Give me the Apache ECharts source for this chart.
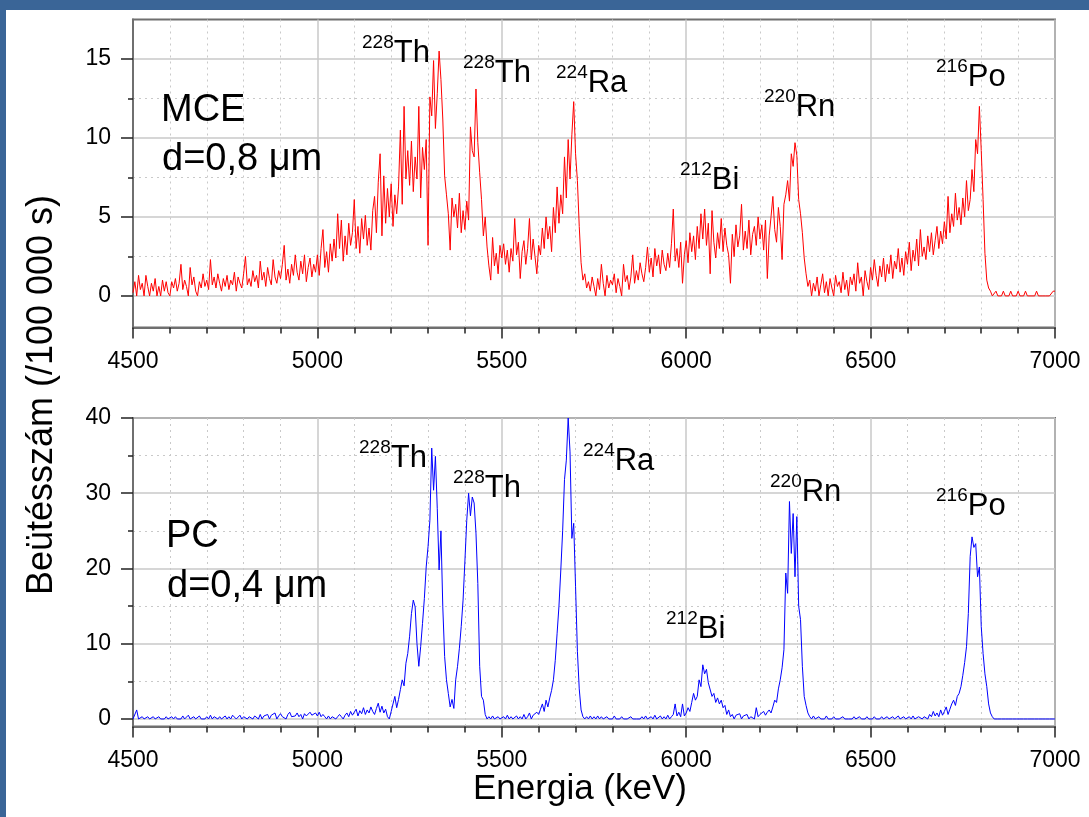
<!DOCTYPE html>
<html>
<head>
<meta charset="utf-8">
<script src="https://cdn.jsdelivr.net/npm/echarts@6/dist/echarts.min.js"></script>
<style>
html,body{margin:0;padding:0;background:#ffffff;}
#chart{width:1089px;height:817px;}
</style>
</head>
<body>
<div id="chart"></div>
<script>
// ---------- DATA ----------
// channel energies: E_START + i*E_STEP (keV)
const E_START = 4500;
const E_STEP = 5;

// MCE, d=0,8 µm  (counts / 100 000 s)
const mceCounts = [
  0.2, 0.9, 0.0, 1.3, 0.4, 0.8, 0.0, 1.3, 0.6, 0.0,
  0.8, 0.3, 1.1, 0.0, 0.6, 0.0, 1.0, 0.3, 0.9, 0.2,
  0.0, 0.9, 0.5, 1.1, 0.3, 0.8, 2.0, 0.4, 1.0, 0.6,
  0.0, 1.8, 0.7, 1.2, 0.3, 0.0, 0.9, 0.5, 1.4, 0.6,
  1.0, 0.4, 2.3, 0.7, 1.2, 0.5, 1.4, 0.8, 0.3, 1.1,
  0.6, 1.3, 0.4, 1.0, 0.7, 1.5, 0.3, 1.2, 0.8, 0.5,
  1.4, 2.5, 0.7, 1.1, 0.6, 1.6, 0.9, 1.3, 0.5, 2.2,
  1.0, 1.5, 0.6, 1.8, 1.1, 0.7, 2.3, 1.2, 0.8, 1.6,
  1.1, 2.0, 3.2, 1.0, 1.7, 0.8, 2.0, 1.3, 2.6, 1.5,
  1.0, 2.2, 1.4, 2.6, 0.9, 1.8, 2.4, 1.2, 2.0, 1.5,
  2.6, 1.3, 3.0, 4.2, 1.8, 2.8, 1.5, 3.3, 2.2, 3.6,
  2.4, 5.2, 3.0, 4.8, 2.2, 3.8, 2.6, 4.6, 3.2, 4.0,
  6.1, 3.0, 4.4, 2.7, 4.9, 3.6, 5.1, 3.2, 4.3, 2.9,
  5.4, 6.3, 4.0, 7.2, 9.0, 3.8, 7.6, 4.6, 6.8, 5.0,
  7.1, 4.4, 6.4, 5.2, 6.9, 10.5, 5.8, 12.0, 7.4, 9.2,
  7.0, 9.8, 6.6, 8.8, 7.4, 12.0, 6.2, 9.4, 8.0, 9.9,
  3.2, 12.6, 11.4, 14.9, 10.6, 12.8, 15.5, 13.7, 11.2, 7.6,
  6.4, 5.2, 2.9, 6.2, 5.0, 5.8, 4.3, 6.5, 4.0, 5.4,
  4.2, 6.0, 4.8, 10.7, 9.2, 8.8, 13.1, 9.7, 7.8, 6.1,
  3.8, 5.0, 3.1, 1.9, 1.0, 3.7, 1.9, 2.7, 1.4, 3.2,
  2.4, 3.3, 2.0, 2.9, 1.5, 3.0, 2.2, 4.9, 2.6, 3.4,
  1.1, 2.8, 3.5, 2.0, 3.0, 4.9, 2.3, 3.6, 2.5, 1.4,
  3.2, 2.6, 4.3, 3.0, 5.0, 3.6, 4.4, 2.8, 5.6, 4.0,
  6.9, 4.6, 6.4, 5.2, 8.8, 6.2, 9.9, 7.4, 10.2, 12.3,
  9.0, 7.3, 4.4, 2.1, 1.0, 1.4, 0.5, 0.9, 0.3, 1.2,
  0.6, 0.0, 1.1, 0.4, 2.0, 0.8, 0.0, 1.3, 0.5, 1.0,
  0.7, 1.4, 0.2, 1.1, 0.6, 0.0, 2.0, 0.9, 1.3, 0.4,
  1.2, 2.6, 0.8, 1.6, 1.0, 2.1, 1.4, 0.9, 1.8, 3.1,
  1.5, 2.4, 1.2, 3.0, 1.9, 2.6, 1.4, 2.9, 2.0, 1.6,
  2.7, 1.8, 3.3, 5.5, 2.2, 3.0, 1.8, 3.4, 0.8, 2.6,
  3.5, 2.1, 4.0, 2.8, 3.8, 2.3, 4.4, 3.0, 5.2, 3.6,
  5.5, 3.2, 4.6, 1.4, 5.4, 3.4, 2.4, 4.0, 3.0, 4.9,
  2.8, 4.3, 3.2, 2.6, 0.8, 3.9, 2.5, 4.5, 3.1, 3.8,
  5.8, 2.9, 4.1, 3.0, 4.8, 2.6, 3.9, 4.4, 3.2, 5.0,
  3.6, 4.5, 2.9, 4.8, 1.1, 3.8, 5.0, 6.3, 4.2, 3.4,
  5.6, 4.4, 2.3, 5.8, 6.4, 7.3, 6.0, 9.0, 8.2, 9.7,
  8.9, 6.1, 5.2, 4.0, 2.4, 1.4, 0.6, 1.0, 0.0, 0.8,
  0.3, 1.2, 0.0, 0.7, 1.4, 0.2, 0.9, 0.0, 1.1, 0.5,
  0.0, 1.3, 0.6, 0.9, 0.2, 1.5, 0.4, 1.0, 0.0, 1.2,
  0.7, 1.4, 0.3, 2.1, 0.8, 1.2, 0.0, 1.6, 0.9, 0.4,
  1.8, 1.0, 2.3, 1.3, 0.6, 1.9, 1.2, 2.4, 0.9, 2.0,
  1.4, 2.6, 1.1, 2.2, 1.7, 3.0, 1.5, 2.4, 1.3, 2.8,
  2.0, 3.4, 1.6, 2.9, 2.2, 3.6, 1.9, 4.2, 2.5, 3.1,
  2.3, 3.8, 2.8, 4.0, 2.6, 3.5, 4.4, 3.0, 4.1, 3.3,
  4.7, 3.6, 6.3, 4.0, 5.2, 4.4, 6.5, 4.8, 5.6, 4.5,
  6.2, 5.0, 7.3, 5.4, 6.1, 8.0, 6.6, 9.9, 9.0, 12.0,
  9.2, 6.1, 2.7, 1.0, 0.5, 0.3, 0.0, 0.0, 0.3, 0.0,
  0.0, 0.0, 0.3, 0.0, 0.0, 0.0, 0.3, 0.0, 0.0, 0.0,
  0.3, 0.0, 0.0, 0.0, 0.3, 0.0, 0.0, 0.0, 0.0, 0.0,
  0.3, 0.0, 0.0, 0.0, 0.0, 0.0, 0.0, 0.0, 0.0, 0.3,
  0.3
];

// PC, d=0,4 µm  (counts / 100 000 s)
const pcCounts = [
  0, 0.2, 1.2, 0, 0, 0.3, 0, 0, 0.3, 0,
  0, 0.3, 0, 0, 0.3, 0, 0, 0, 0.3, 0,
  0, 0.3, 0, 0.3, 0, 0, 0, 0.4, 0, 0,
  0.5, 0, 0, 0.3, 0, 0, 0.4, 0, 0, 0,
  0.3, 0, 0.5, 0, 0.3, 0.4, 0, 0.3, 0, 0,
  0.4, 0, 0.3, 0, 0.5, 0.3, 0, 0, 0.5, 0,
  0.3, 0.4, 0, 0.3, 0.5, 0, 0.4, 0.3, 0, 0.6,
  0, 0.4, 0.3, 0.6, 0, 0.5, 0.3, 0.8, 0, 0.4,
  0.7, 0.3, 0.5, 0, 0.6, 0.9, 0.3, 0.5, 0.4, 0.8,
  0.3, 0.6, 0, 0.7, 0.4, 0.3, 0.9, 0.5, 0.3, 0.8,
  0.4, 0.9, 0.3, 0.6, 0.3, 0, 0.4, 0, 0.3, 0.4,
  0, 0.3, 0.6, 0.3, 0, 0.5, 0.8, 0.3, 1.0, 0.5,
  0.9, 1.3, 0.4, 1.1, 0.7, 1.5, 0.6, 1.2, 0.8, 1.6,
  1.0, 0.6, 1.4, 2.1, 0.9, 1.7, 0.8, 1.3, 0.3, 0,
  1.0, 2.0, 3.0, 1.5, 2.6, 3.9, 5.2, 4.4, 7.4, 8.7,
  11.0, 14.0, 15.8, 14.9, 10.0, 7.0, 9.6, 12.7, 16.0, 20.2,
  22.9, 26.4, 36.0, 30.4, 34.9, 28.0, 19.8, 25.0, 14.9, 8.3,
  5.2, 3.4, 1.6, 2.6, 1.4, 5.2, 7.0, 9.4, 12.3, 15.8,
  21.0, 26.4, 30.0, 27.0, 29.5, 28.7, 24.7, 18.0, 7.0, 3.0,
  2.5, 0.6, 0, 0.3, 0, 0.4, 0, 0, 0.3, 0,
  0, 0.3, 0, 0.5, 0, 0.3, 0, 0, 0.4, 0,
  0.3, 0, 0.6, 0, 0.3, 0.8, 0, 0.5, 0.3, 0.9,
  0.6, 1.3, 2.0, 1.0, 2.5, 1.6, 2.8, 3.8, 5.2, 7.8,
  11.4, 15.0, 19.8, 25.0, 31.8, 34.4, 40.0, 35.5, 24.0, 26.0,
  17.6, 9.0, 4.0, 1.2, 0.3, 0, 0.3, 0, 0.4, 0,
  0.3, 0, 0.4, 0, 0.3, 0, 0, 0.3, 0, 0,
  0, 0.4, 0, 0, 0, 0.3, 0, 0, 0, 0,
  0.3, 0, 0, 0, 0, 0, 0.3, 0, 0.4, 0,
  0, 0.3, 0, 0.5, 0, 0, 0.4, 0, 0.3, 0,
  0.5, 0, 0.3, 0.6, 2.0, 0.4, 0.9, 0.3, 2.0, 0.4,
  0.8, 1.5, 1.0, 2.2, 3.4, 2.5, 3.0, 5.2, 4.3, 7.2,
  6.0, 6.6, 4.8, 5.0, 3.0, 3.4, 2.2, 2.8, 2.0, 2.5,
  1.5, 1.8, 0.6, 1.2, 0.3, 0.6, 0, 0.5, 0.3, 0.7,
  0, 0.4, 0.3, 0.6, 0, 0.3, 0.5, 0, 1.5, 0.3,
  0.6, 0.4, 1.0, 0.5, 0.9, 1.2, 0.8, 1.6, 2.5, 2.2,
  4.0, 5.2, 6.8, 9.2, 19.4, 16.7, 28.9, 22.0, 27.3, 18.9,
  26.9, 15.0, 13.2, 7.0, 3.0, 1.8, 0.8, 0.3, 0, 0.4,
  0, 0, 0.3, 0, 0, 0, 0.4, 0, 0, 0,
  0.3, 0, 0, 0, 0, 0.3, 0, 0, 0, 0,
  0, 0.3, 0, 0, 0.3, 0, 0, 0, 0.3, 0,
  0, 0, 0.3, 0, 0, 0, 0.3, 0, 0, 0.3,
  0, 0, 0.3, 0, 0, 0.4, 0, 0, 0.3, 0,
  0, 0.3, 0, 0.4, 0, 0, 0.3, 0.5, 0, 0.3,
  0.4, 0, 0.6, 0.3, 1.0, 0.4, 0.8, 0.3, 1.2, 0.5,
  1.0, 1.6, 0.6, 1.3, 2.0, 2.5, 1.8, 3.0, 3.4, 4.3,
  5.8, 7.5, 9.6, 14.0, 21.6, 24.2, 22.8, 23.3, 18.9, 20.2,
  12.3, 8.7, 6.0, 4.3, 2.0, 0.8, 0.3, 0, 0, 0,
  0, 0, 0, 0, 0, 0, 0, 0, 0, 0,
  0, 0, 0, 0, 0, 0, 0, 0, 0, 0,
  0, 0, 0, 0, 0, 0, 0, 0, 0, 0,
  0
];

const topMajorTicks = [0, 5, 10, 15];
const topMinorTicks = [2.5, 7.5, 12.5];
const botMajorTicks = [0, 10, 20, 30, 40];
const botMinorTicks = [5, 15, 25, 35];

const isotopes = [['228', 'Th'], ['228', 'Th'], ['224', 'Ra'], ['212', 'Bi'], ['220', 'Rn'], ['216', 'Po']];
const panelTexts = [['MCE', 'd=0,8 \u03bcm'], ['PC', 'd=0,4 \u03bcm']];
const xTitle = 'Energia (keV)';
const yTitle = 'Beütésszám (/100 000 s)';

// ---------- LAYOUT ----------
const FONT = "'Liberation Sans', Arial, Helvetica, sans-serif";
const pairs = arr => arr.map((v, i) => [E_START + i * E_STEP, v]);
const plain = v => String(v);

const AXIS_GREY = '#6f6f6f';
const GRID_GREY = '#c9c9c9';

function xAxisCfg(gi) {
  return {
    type: 'value', gridIndex: gi, min: 4500, max: 7000, interval: 500,
    axisLine: { show: true, onZero: false, lineStyle: { color: AXIS_GREY, width: 2 } },
    axisTick: { show: true, length: 11, lineStyle: { color: '#222', width: 1.5 } },
    minorTick: { show: true, splitNumber: 5, length: 6, lineStyle: { color: '#222', width: 1.5 } },
    axisLabel: { fontSize: 23, color: '#000', margin: 23, fontFamily: FONT, showMinLabel: true, showMaxLabel: true, formatter: plain },
    splitLine: { show: true, lineStyle: { color: GRID_GREY, width: 1.5 } },
    minorSplitLine: { show: true, lineStyle: { color: GRID_GREY, width: 1, type: [2, 4] } }
  };
}
function yMajorCfg(gi, min, max, ticks) {
  return {
    type: 'value', gridIndex: gi, min: min, max: max, position: 'left',
    axisLine: { show: true, onZero: false, lineStyle: { color: AXIS_GREY, width: 2 } },
    axisTick: { show: true, length: 12, customValues: ticks, lineStyle: { color: '#222', width: 1.5 } },
    axisLabel: { show: true, customValues: ticks, fontSize: 23, color: '#000', margin: 22, fontFamily: FONT, formatter: plain },
    splitLine: { show: true, lineStyle: { color: GRID_GREY, width: 1.5 } }
  };
}
function yMinorCfg(gi, min, max, ticks) {
  return {
    type: 'value', gridIndex: gi, min: min, max: max, position: 'left', offset: 0,
    axisLine: { show: false },
    axisTick: { show: true, length: 5, customValues: ticks, lineStyle: { color: '#222', width: 1.5 } },
    axisLabel: { show: false },
    splitLine: { show: true, lineStyle: { color: GRID_GREY, width: 1, type: [2, 4] } }
  };
}

// text helpers (pixel layout of annotations)
const measure = (() => {
  const c = document.createElement('canvas').getContext('2d');
  return (txt, size) => { c.font = size + 'px ' + FONT; return c.measureText(txt).width; };
})();
function textAtBaseline(txt, x, baseline, size, extra) {
  return Object.assign({
    type: 'text', x: x, y: baseline - 0.31 * size, z: 100,
    style: { text: txt, fontSize: size, fontFamily: FONT, fill: '#000', align: 'left', verticalAlign: 'middle' }
  }, extra || {});
}
function isoLabel(name, x, baseline) {
  const SUP = 19, MAIN = 31;
  const w = measure(name[0], SUP);
  return [
    textAtBaseline(name[0], x, baseline - 14.5, SUP),
    textAtBaseline(name[1], x + w, baseline, MAIN)
  ];
}
const topLabelPos = [[362, 63], [463, 83], [556, 93], [680, 190], [764, 117], [936, 87]];
const botLabelPos = [[359, 468], [453, 498], [583, 471], [666, 639], [770, 502], [936, 516]];

const graphics = [
  { type: 'rect', shape: { x: 0, y: 0, width: 1089, height: 10 }, style: { fill: '#3a6597' }, z: 200 },
  { type: 'rect', shape: { x: 0, y: 0, width: 6, height: 817 }, style: { fill: '#3a6597' }, z: 200 },
  textAtBaseline(panelTexts[0][0], 161, 122, 38),
  textAtBaseline(panelTexts[0][1], 162, 171, 38),
  textAtBaseline(panelTexts[1][0], 166, 548, 38),
  textAtBaseline(panelTexts[1][1], 167, 598, 38),
  {
    type: 'text', x: 580, y: 800 - 0.31 * 35, z: 100,
    style: { text: xTitle, fontSize: 35, fontFamily: FONT, fill: '#000', align: 'center', verticalAlign: 'middle' }
  },
  {
    type: 'text', x: 53 - 0.31 * 36, y: 395, rotation: Math.PI / 2, z: 100,
    style: { text: yTitle, fontSize: 36, fontFamily: FONT, fill: '#000', align: 'center', verticalAlign: 'middle' }
  }
];
isotopes.forEach((n, i) => {
  graphics.push(...isoLabel(n, topLabelPos[i][0], topLabelPos[i][1]));
  graphics.push(...isoLabel(n, botLabelPos[i][0], botLabelPos[i][1]));
});

const option = {
  animation: false,
  backgroundColor: '#ffffff',
  textStyle: { fontFamily: FONT },
  grid: [
    { left: 133, top: 19.5, width: 922, height: 308, show: true, borderColor: AXIS_GREY, borderWidth: 2, backgroundColor: 'transparent', containLabel: false },
    { left: 133, top: 418, width: 922, height: 308.5, show: true, borderColor: AXIS_GREY, borderWidth: 2, backgroundColor: 'transparent', containLabel: false }
  ],
  xAxis: [xAxisCfg(0), xAxisCfg(1)],
  yAxis: [
    yMajorCfg(0, -2, 17.5, topMajorTicks),
    yMinorCfg(0, -2, 17.5, topMinorTicks),
    yMajorCfg(1, -1, 40, botMajorTicks),
    yMinorCfg(1, -1, 40, botMinorTicks)
  ],
  series: [
    {
      type: 'line', xAxisIndex: 0, yAxisIndex: 0, data: pairs(mceCounts),
      showSymbol: false, symbol: 'none', sampling: null,
      lineStyle: { color: '#ff0000', width: 1 }, itemStyle: { color: '#ff0000' }, z: 5
    },
    {
      type: 'line', xAxisIndex: 1, yAxisIndex: 2, data: pairs(pcCounts),
      showSymbol: false, symbol: 'none', sampling: null,
      lineStyle: { color: '#0000ff', width: 1 }, itemStyle: { color: '#0000ff' }, z: 5
    }
  ],
  graphic: graphics
};

const chart = echarts.init(document.getElementById('chart'), null, { renderer: 'canvas' });
chart.setOption(option);
</script>
</body>
</html>
